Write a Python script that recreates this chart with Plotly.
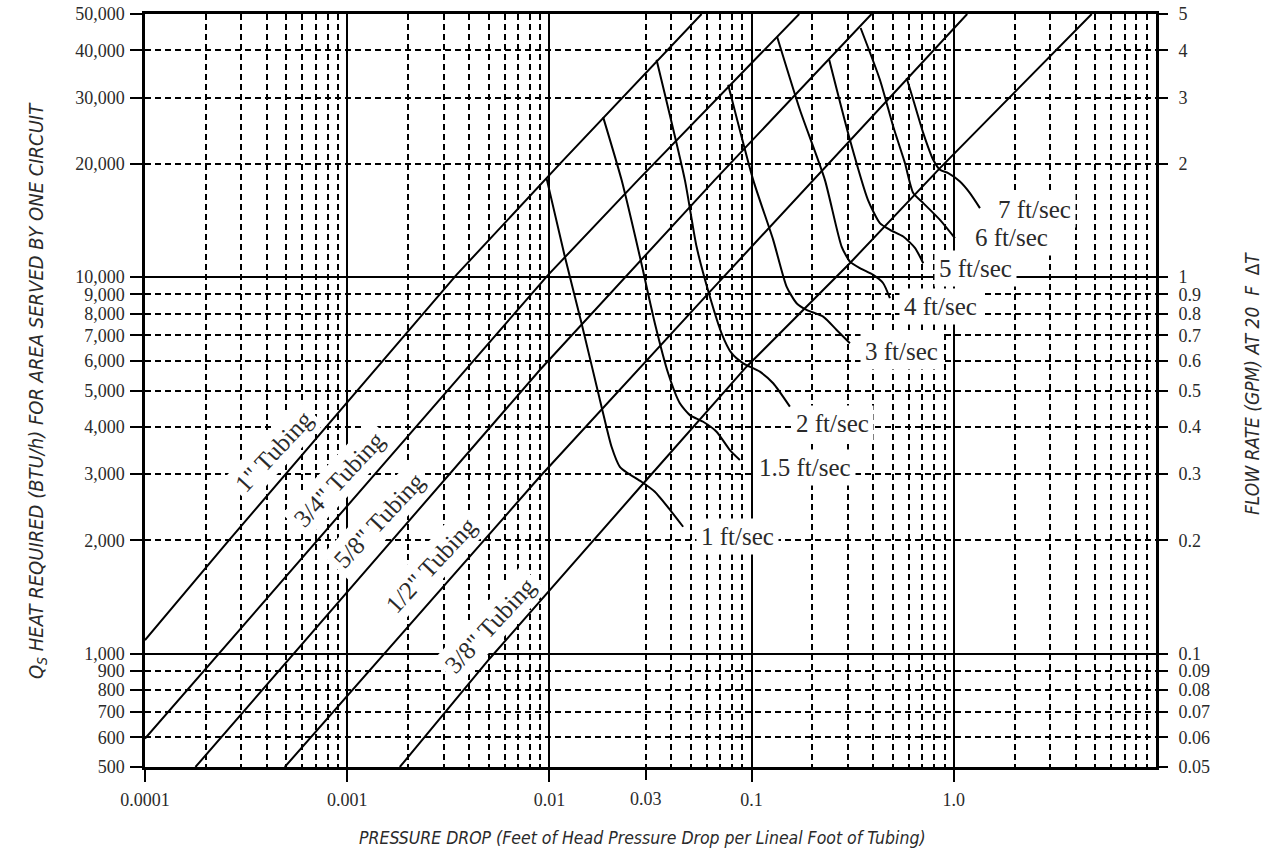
import numpy as np
import plotly.graph_objects as go

# ---------------- data ----------------
# Tubing lines (x = pressure drop ft/ft, y = heat BTU/h)
tube_labels = ['1" Tubing', '3/4" Tubing', '5/8" Tubing', '1/2" Tubing', '3/8" Tubing']
tube_1_x = [0.0001, 0.000258, 0.00347, 0.01135, 0.0566]
tube_1_y = [1086, 1990, 10140, 20090, 50000]
tube_34_x = [0.0001, 0.00986, 0.0275, 0.172]
tube_34_y = [595, 10140, 18130, 50000]
tube_58_x = [0.0001776, 0.008965, 0.0658, 0.392]
tube_58_y = [500, 5667, 18130, 50000]
tube_12_x = [0.000491, 0.008965, 0.0634, 0.2017, 1.165]
tube_12_y = [500, 2950, 9250, 18130, 50000]
tube_38_x = [0.00182, 0.00507, 0.02965, 0.0944, 0.306, 0.854, 4.81]
tube_38_y = [500, 971, 2861, 5783, 10890, 19480, 50000]
# label anchor points (centre of rotated label)
tube_label_x = [0.000433, 0.000908, 0.001432, 0.002582, 0.005073]
tube_label_y = [3438, 2909, 2263, 1719, 1190]

# Velocity curves
vel_labels = ['1 ft/sec', '1.5 ft/sec', '2 ft/sec', '3 ft/sec', '4 ft/sec', '5 ft/sec', '6 ft/sec', '7 ft/sec']
v1_x = [0.009677, 0.011921, 0.01442, 0.018108, 0.020296, 0.022305, 0.024518, 0.028546, 0.033225, 0.040193, 0.045866]
v1_y = [18327, 11340, 7545, 4529, 3544, 3136, 3012, 2861, 2691, 2381, 2173]
v15_x = [0.018441, 0.022741, 0.028015, 0.033225, 0.038666, 0.044172, 0.049512, 0.057594, 0.067105, 0.078081, 0.087513]
v15_y = [26617, 18133, 11340, 7545, 5555, 4624, 4302, 4130, 3886, 3473, 3268]
v2_x = [0.033875, 0.046763, 0.053427, 0.062147, 0.071027, 0.07963, 0.090858, 0.1099, 0.12786, 0.15465]
v2_y = [37813, 18133, 12058, 8880, 7096, 6280, 5905, 5610, 5226, 4529]
v3_x = [0.076583, 0.10182, 0.12786, 0.14895, 0.16692, 0.18703, 0.22594, 0.26331, 0.30633]
v3_y = [32437, 18133, 12563, 9438, 8528, 8185, 7856, 7241, 6675]
v4_x = [0.13382, 0.1733, 0.23036, 0.27871, 0.30633, 0.34335, 0.39946, 0.44762, 0.4831]
v4_y = [43431, 27833, 18133, 12058, 11000, 10564, 10139, 9636, 8793]
v5_x = [0.24192, 0.30633, 0.37602, 0.43109, 0.4831, 0.56218, 0.64234, 0.70623]
v5_y = [37813, 23165, 16048, 13912, 13356, 12820, 11963, 10892]
v6_x = [0.34609, 0.43109, 0.50166, 0.57321, 0.63006, 0.70623, 0.85433, 1.0131]
v6_y = [45896, 33445, 25130, 20093, 16719, 15727, 14196, 12695]
v7_x = [0.58443, 0.63006, 0.70623, 0.79099, 0.85433, 0.93864, 1.0724, 1.2017, 1.347]
v7_y = [33796, 29592, 24135, 20502, 19283, 18897, 17946, 16719, 15254]
vel_label_x = [0.08554, 0.18345, 0.25241, 0.55389, 0.86389, 1.2868, 1.9398, 2.52]
vel_label_y = [2052, 3131, 4098, 6330, 8337, 10518, 12718, 15096]

# Axis ticks
x_major = [0.0001, 0.001, 0.01, 0.1, 1.0]
x_major_text = ['0.0001', '0.001', '0.01', '0.1', '1.0']
x_extra = [0.03]
x_extra_text = ['0.03']
x_minor_mult = [2, 3, 4, 5, 6, 7, 8, 9]
x_decades = [0.0001, 0.001, 0.01, 0.1, 1.0]
x_missing = [0.02]
y_ticks = [500, 600, 700, 800, 900, 1000, 2000, 3000, 4000, 5000, 6000, 7000, 8000, 9000,
           10000, 20000, 30000, 40000, 50000]
y_ticktext = ['500', '600', '700', '800', '900', '1,000', '2,000', '3,000', '4,000', '5,000',
              '6,000', '7,000', '8,000', '9,000', '10,000', '20,000', '30,000', '40,000', '50,000']
gpm_ticktext = ['0.05', '0.06', '0.07', '0.08', '0.09', '0.1', '0.2', '0.3', '0.4', '0.5',
                '0.6', '0.7', '0.8', '0.9', '1', '2', '3', '4', '5']
y_solid = [1000, 10000]
y_dashed = [600, 700, 800, 900, 2000, 3000, 4000, 5000, 6000, 7000, 8000, 9000, 20000, 30000, 40000]

# ---------------- figure ----------------
SERIF = "Liberation Serif, Times New Roman, serif"
SANS_COND = "Liberation Sans Narrow, DejaVu Sans Condensed, Arial Narrow, sans-serif"
TXT = '#2a2a2a'
LW = 2
TICKFONT = dict(family=SERIF, size=18, color=TXT)

x_minor = []
for d in x_decades:
    for m in x_minor_mult:
        v = round(m * d, 6)
        if not any(abs(v - z) < 1e-9 for z in x_missing):
            x_minor.append(v)

fig = go.Figure()

tubes = [(tube_1_x, tube_1_y), (tube_34_x, tube_34_y), (tube_58_x, tube_58_y),
         (tube_12_x, tube_12_y), (tube_38_x, tube_38_y)]
for (tx, ty), name in zip(tubes, tube_labels):
    fig.add_trace(go.Scatter(x=tx, y=ty, mode='lines', name=name,
                             line=dict(color='black', width=LW), hoverinfo='name',
                             xaxis='x', yaxis='y'))

vels = [(v1_x, v1_y), (v15_x, v15_y), (v2_x, v2_y), (v3_x, v3_y), (v4_x, v4_y),
        (v5_x, v5_y), (v6_x, v6_y), (v7_x, v7_y)]
for i, ((vx, vy), name) in enumerate(zip(vels, vel_labels)):
    fig.add_trace(go.Scatter(x=vx, y=vy, mode='lines', name=name,
                             line=dict(color='black', width=LW, shape='spline', smoothing=0.6),
                             hoverinfo='name', xaxis='x2', yaxis='y2' if i < 4 else 'y3'))

xr = [-4, 1]
yr = [np.log10(500), np.log10(50000)]

fig.update_layout(
    width=1273, height=857, autosize=False,
    margin=dict(l=145, r=117, t=14, b=90, autoexpand=False),
    paper_bgcolor='white', plot_bgcolor='white',
    showlegend=False,
    xaxis=dict(type='log', range=xr, tickvals=x_major, ticktext=x_major_text,
               showgrid=True, gridcolor='black', gridwidth=LW,
               ticks='outside', ticklen=12, tickwidth=LW, tickcolor='black',
               showline=True, linecolor='black', linewidth=2.5, mirror=True,
               zeroline=False, ticklabelstandoff=3, automargin=False,
               tickfont=TICKFONT,
               minor=dict(tickvals=x_minor, showgrid=True, gridcolor='black',
                          gridwidth=LW, griddash='6px,4px', ticks='')),
    xaxis2=dict(type='log', range=xr, overlaying='x', anchor='y', side='bottom',
                tickvals=x_extra, ticktext=x_extra_text, showgrid=False,
                ticks='outside', ticklen=12, tickwidth=LW, tickcolor='black',
                showline=False, zeroline=False, ticklabelstandoff=3, automargin=False,
                tickfont=TICKFONT),
    yaxis=dict(type='log', range=yr, tickvals=y_ticks, ticktext=y_ticktext,
               showgrid=False, ticks='outside', ticklen=12, tickwidth=LW, tickcolor='black',
               showline=True, linecolor='black', linewidth=2.5, mirror=True,
               zeroline=False, automargin=False, ticklabelstandoff=2,
               tickfont=TICKFONT),
    yaxis2=dict(type='log', range=yr, overlaying='y', side='right',
                anchor='x', tickvals=y_ticks, ticktext=gpm_ticktext, showgrid=False,
                ticks='outside', ticklen=11, tickwidth=LW, tickcolor='black',
                showline=False, zeroline=False, ticklabelstandoff=7, automargin=False,
                tickfont=TICKFONT),
    yaxis3=dict(type='log', range=yr, overlaying='y', anchor='x', side='left',
                tickvals=y_solid, showticklabels=False, ticks='', automargin=False,
                showgrid=True, gridcolor='black', gridwidth=LW, showline=False, zeroline=False,
                minor=dict(tickvals=y_dashed, showgrid=True, gridcolor='black',
                           gridwidth=LW, griddash='6px,4px', ticks='')),
)

ann = []
for lbl, lx, ly in zip(tube_labels, tube_label_x, tube_label_y):
    ann.append(dict(x=np.log10(lx), y=np.log10(ly), xref='x', yref='y', text=lbl,
                    showarrow=False, textangle=-47, bgcolor='white', borderpad=4,
                    font=dict(family=SERIF, size=25, color=TXT)))
for lbl, lx, ly in zip(vel_labels, vel_label_x, vel_label_y):
    ann.append(dict(x=np.log10(lx), y=np.log10(ly), xref='x', yref='y', text=lbl,
                    showarrow=False, bgcolor='white', borderpad=4,
                    font=dict(family=SERIF, size=25, color=TXT)))
ann.append(dict(x=0.4919, y=-0.0948, xref='paper', yref='paper', xanchor='center', yanchor='middle',
                text='PRESSURE DROP (Feet of Head Pressure Drop per Lineal Foot of Tubing)',
                showarrow=False, font=dict(family=SANS_COND, size=17.5, color=TXT, style='italic')))
ann.append(dict(x=-0.1072, y=0.50, xref='paper', yref='paper', xanchor='center', yanchor='middle',
                text='Q<sub>S</sub> HEAT REQUIRED (BTU/h) FOR AREA SERVED BY ONE CIRCUIT',
                textangle=-90, showarrow=False,
                font=dict(family=SANS_COND, size=20, color=TXT, style='italic')))
ann.append(dict(x=1.095, y=0.5086, xref='paper', yref='paper', xanchor='center', yanchor='middle',
                text='FLOW RATE (GPM) AT 20\u00a0\u00a0F\u00a0\u00a0\u2206T',
                textangle=-90, showarrow=False,
                font=dict(family=SANS_COND, size=19, color=TXT, style='italic')))
fig.update_layout(annotations=ann)

fig.write_html("out.html", config={'displayModeBar': False},
               post_script="document.body.style.margin='0px';")
